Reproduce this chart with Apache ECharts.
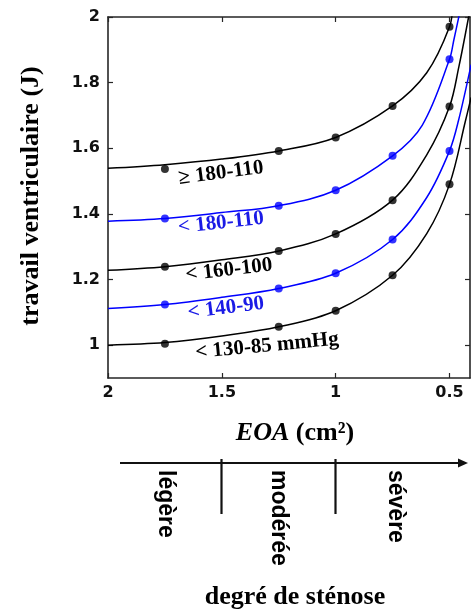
<!DOCTYPE html>
<html>
<head>
<meta charset="utf-8">
<script src="https://cdn.jsdelivr.net/npm/echarts@6/dist/echarts.min.js"></script>
<style>
html,body{margin:0;padding:0;background:#fff}
#c{width:471px;height:612px}
</style>
</head>
<body>
<div id="c"></div>
<script>
// ---------- data ----------
const xTickValues = [2, 1.5, 1, 0.5];
const yTickValues = [1, 1.2, 1.4, 1.6, 1.8, 2];
const seriesLabels = ['\u2265 180-110', '< 180-110', '< 160-100', '< 140-90', '< 130-85 mmHg'];

// EOA (cm²) where the measured points sit
const eoaPoints = [1.75, 1.25, 1.0, 0.75, 0.5];
// measured ventricular work (J)
const work_ge180_110 = [1.537, 1.592, 1.633, 1.729, 1.970];
const work_lt180_110 = [1.386, 1.425, 1.472, 1.577, 1.871];
const work_lt160_100 = [1.239, 1.287, 1.339, 1.442, 1.727];
const work_lt140_90  = [1.124, 1.173, 1.219, 1.322, 1.592];
const work_lt130_85  = [1.004, 1.056, 1.105, 1.213, 1.490];

// fitted curves: [EOA, work]
const curve_ge180_110 = [[2,1.539],[1.75,1.550],[1.5,1.567],[1.25,1.592],[1,1.633],[0.75,1.729],[0.6,1.830],[0.5,1.970],[0.485,2.04]];
const curve_lt180_110 = [[2,1.378],[1.75,1.386],[1.5,1.404],[1.25,1.425],[1,1.472],[0.75,1.577],[0.62,1.670],[0.5,1.871],[0.481,1.930],[0.45,2.03]];
const curve_lt160_100 = [[2,1.228],[1.75,1.239],[1.5,1.260],[1.25,1.287],[1,1.339],[0.75,1.442],[0.6,1.580],[0.5,1.727],[0.459,1.848],[0.416,2.0],[0.405,2.04]];
const curve_lt140_90  = [[2,1.112],[1.75,1.124],[1.5,1.146],[1.25,1.173],[1,1.219],[0.75,1.322],[0.6,1.450],[0.5,1.592],[0.46,1.686],[0.405,1.855]];
const curve_lt130_85  = [[2,1.000],[1.75,1.008],[1.5,1.028],[1.25,1.056],[1,1.105],[0.75,1.213],[0.6,1.340],[0.5,1.490],[0.429,1.686],[0.405,1.755]];

// ---------- chart ----------
const BLACK = '#000000';
const BLUE = '#0000ff';
const AXIS = '#262626';

const curves = [curve_ge180_110, curve_lt180_110, curve_lt160_100, curve_lt140_90, curve_lt130_85];
const works = [work_ge180_110, work_lt180_110, work_lt160_100, work_lt140_90, work_lt130_85];
const colors = [BLACK, BLUE, BLACK, BLUE, BLACK];

const series = [];
curves.forEach((c, i) => {
  series.push({
    type: 'line', name: seriesLabels[i], data: c, smooth: 0.35,
    showSymbol: false, symbol: 'none', clip: true,
    lineStyle: { color: colors[i], width: 1.5 }, z: 2, silent: true
  });
});
works.forEach((w, i) => {
  series.push({
    type: 'scatter', name: seriesLabels[i] + ' pts',
    data: eoaPoints.map((e, k) => [e, w[k]]),
    symbol: 'circle', symbolSize: 8,
    itemStyle: { color: colors[i] }, z: 3, silent: true
  });
});

const tickFont = { fontFamily: 'DejaVu Sans', fontWeight: 'bold', fontSize: 16, color: '#111' };

const option = {
  animation: false,
  backgroundColor: '#fff',
  grid: { left: 108, top: 17, width: 362, height: 361, containLabel: false },
  xAxis: [
    {
      type: 'value', min: 0.41, max: 2, inverse: true, position: 'bottom',
      axisLine: { show: true, onZero: false, lineStyle: { color: AXIS, width: 1.6 } },
      axisTick: { show: true, inside: true, length: 5, customValues: xTickValues, lineStyle: { color: AXIS, width: 1.2 } },
      axisLabel: { show: true, customValues: xTickValues, margin: 7, ...tickFont, formatter: v => String(v) },
      splitLine: { show: false }
    },
    {
      type: 'value', min: 0.41, max: 2, inverse: true, position: 'top',
      axisLine: { show: true, onZero: false, lineStyle: { color: AXIS, width: 1.6 } },
      axisTick: { show: true, inside: true, length: 5, customValues: xTickValues, lineStyle: { color: AXIS, width: 1.2 } },
      axisLabel: { show: false },
      splitLine: { show: false }
    }
  ],
  yAxis: [
    {
      type: 'value', min: 0.9, max: 2, position: 'left',
      axisLine: { show: true, onZero: false, lineStyle: { color: AXIS, width: 1.6 } },
      axisTick: { show: true, inside: true, length: 5, customValues: yTickValues, lineStyle: { color: AXIS, width: 1.2 } },
      axisLabel: { show: true, customValues: yTickValues, margin: 8, ...tickFont, formatter: v => String(v) },
      splitLine: { show: false }
    },
    {
      type: 'value', min: 0.9, max: 2, position: 'right',
      axisLine: { show: true, onZero: false, lineStyle: { color: AXIS, width: 1.6 } },
      axisTick: { show: true, inside: true, length: 5, customValues: yTickValues, lineStyle: { color: AXIS, width: 1.2 } },
      axisLabel: { show: false },
      splitLine: { show: false }
    }
  ],
  series: series
};

const chart = echarts.init(document.getElementById('c'), null, { renderer: 'canvas' });
chart.setOption(option);

// ---------- annotations ----------
const px = v => chart.convertToPixel({ xAxisIndex: 0 }, v);
const SERIF = "'Liberation Serif','Times New Roman',serif";
const SANS = "'Liberation Sans',Arial,sans-serif";

const curveLabelStyle = [
  { x: 221, y: 173, r: 0.13 },
  { x: 221, y: 223, r: 0.11 },
  { x: 229, y: 270, r: 0.115 },
  { x: 226, y: 308, r: 0.125 },
  { x: 267, y: 346, r: 0.095 }
];

const graphics = [];
// y axis title
graphics.push({
  type: 'text', x: 31, y: 196, rotation: Math.PI / 2,
  style: { text: 'travail ventriculaire (J)', font: 'bold 26px ' + SERIF, fill: '#000', align: 'center', verticalAlign: 'middle' }
});
// x axis title
graphics.push({
  type: 'text', x: 295, y: 433,
  style: {
    text: '{i|EOA} {b|(cm\u00B2)}', align: 'center', verticalAlign: 'middle',
    rich: {
      i: { fontFamily: SERIF, fontStyle: 'italic', fontWeight: 'bold', fontSize: 26, fill: '#000' },
      b: { fontFamily: SERIF, fontWeight: 'bold', fontSize: 26, fill: '#000' }
    },
    font: 'bold 26px ' + SERIF
  }
});
// curve labels
curveLabelStyle.forEach((p, i) => {
  graphics.push({
    type: 'text', x: p.x, y: p.y, rotation: p.r,
    style: { text: seriesLabels[i], font: 'bold 21px ' + SERIF, fill: colors[i] === BLUE ? '#1a1ae6' : '#000', align: 'center', verticalAlign: 'middle' }
  });
});
// stenosis arrow
const arrowY = 463;
graphics.push({ type: 'line', shape: { x1: 120, y1: arrowY, x2: 462, y2: arrowY }, style: { stroke: '#111', lineWidth: 2.2 } });
graphics.push({ type: 'polygon', shape: { points: [[458, arrowY - 4.5], [468, arrowY], [458, arrowY + 4.5]] }, style: { fill: '#111' } });
// dividers at the EOA thresholds 1.5 and 1.0
[1.5, 1.0].forEach(v => {
  const x = Math.round(px(v)) - 0.5;
  graphics.push({ type: 'line', shape: { x1: x, y1: 459, x2: x, y2: 514 }, style: { stroke: '#111', lineWidth: 2.2 } });
});
// severity words
[['l\u00E9g\u00E8re', 165], ['mod\u00E9r\u00E9e', 278], ['s\u00E9v\u00E8re', 395]].forEach(([t, x]) => {
  graphics.push({
    type: 'text', x: x, y: 470, rotation: -Math.PI / 2,
    style: { text: t, font: 'bold 23px ' + SANS, fill: '#000', align: 'left', verticalAlign: 'middle' }
  });
});
// bottom title
graphics.push({
  type: 'text', x: 295, y: 597,
  style: { text: 'degr\u00E9 de st\u00E9nose', font: 'bold 26px ' + SERIF, fill: '#000', align: 'center', verticalAlign: 'middle' }
});

chart.setOption({ graphic: graphics });
</script>
</body>
</html>
